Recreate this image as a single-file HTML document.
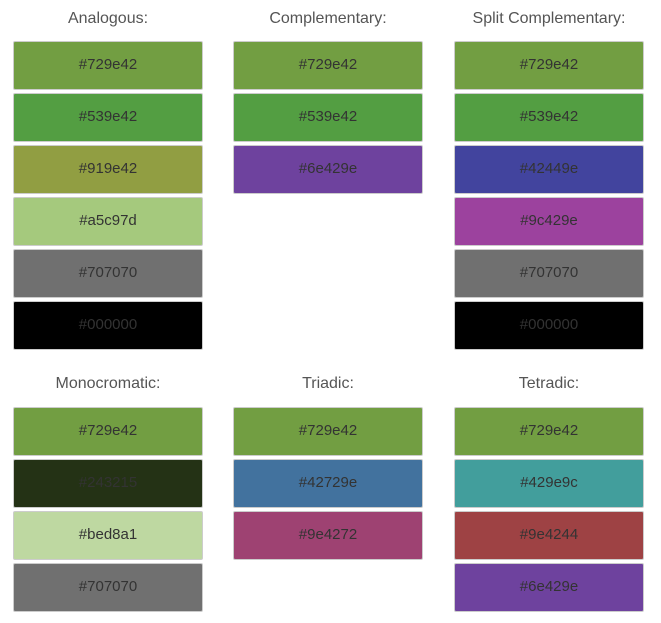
<!DOCTYPE html><html><head><style>
body{margin:0;width:661px;height:623px;background:#fff;font-family:"Liberation Sans",sans-serif;position:relative}
.t{position:absolute;width:190px;text-align:center;font-size:16px;color:#555}
.s{position:absolute;width:188px;height:47px;border:1px solid #ccc;border-radius:2px;text-align:center;line-height:45px;font-size:15px;color:#333}
</style></head><body>
<div id="r"></div>
<script>
var cols=[13,233,454];
var data=[
[0,0,"Analogous:",["729e42","539e42","919e42","a5c97d","707070","000000"]],
[1,0,"Complementary:",["729e42","539e42","6e429e"]],
[2,0,"Split Complementary:",["729e42","539e42","42449e","9c429e","707070","000000"]],
[0,1,"Monocromatic:",["729e42","243215","bed8a1","707070"]],
[1,1,"Triadic:",["729e42","42729e","9e4272"]],
[2,1,"Tetradic:",["729e42","429e9c","9e4244","6e429e"]]];
var h="";
data.forEach(function(d){var x=cols[d[0]],ty=d[1]?375:10,sy=d[1]?407:41;
h+='<div class="t" style="left:'+x+'px;top:'+ty+'px">'+d[2]+'</div>';
d[3].forEach(function(c,i){h+='<div class="s" style="left:'+x+'px;top:'+(sy+i*52)+'px;background:#'+c+'">#'+c+'</div>';});});
document.getElementById("r").innerHTML=h;
</script></body></html>
